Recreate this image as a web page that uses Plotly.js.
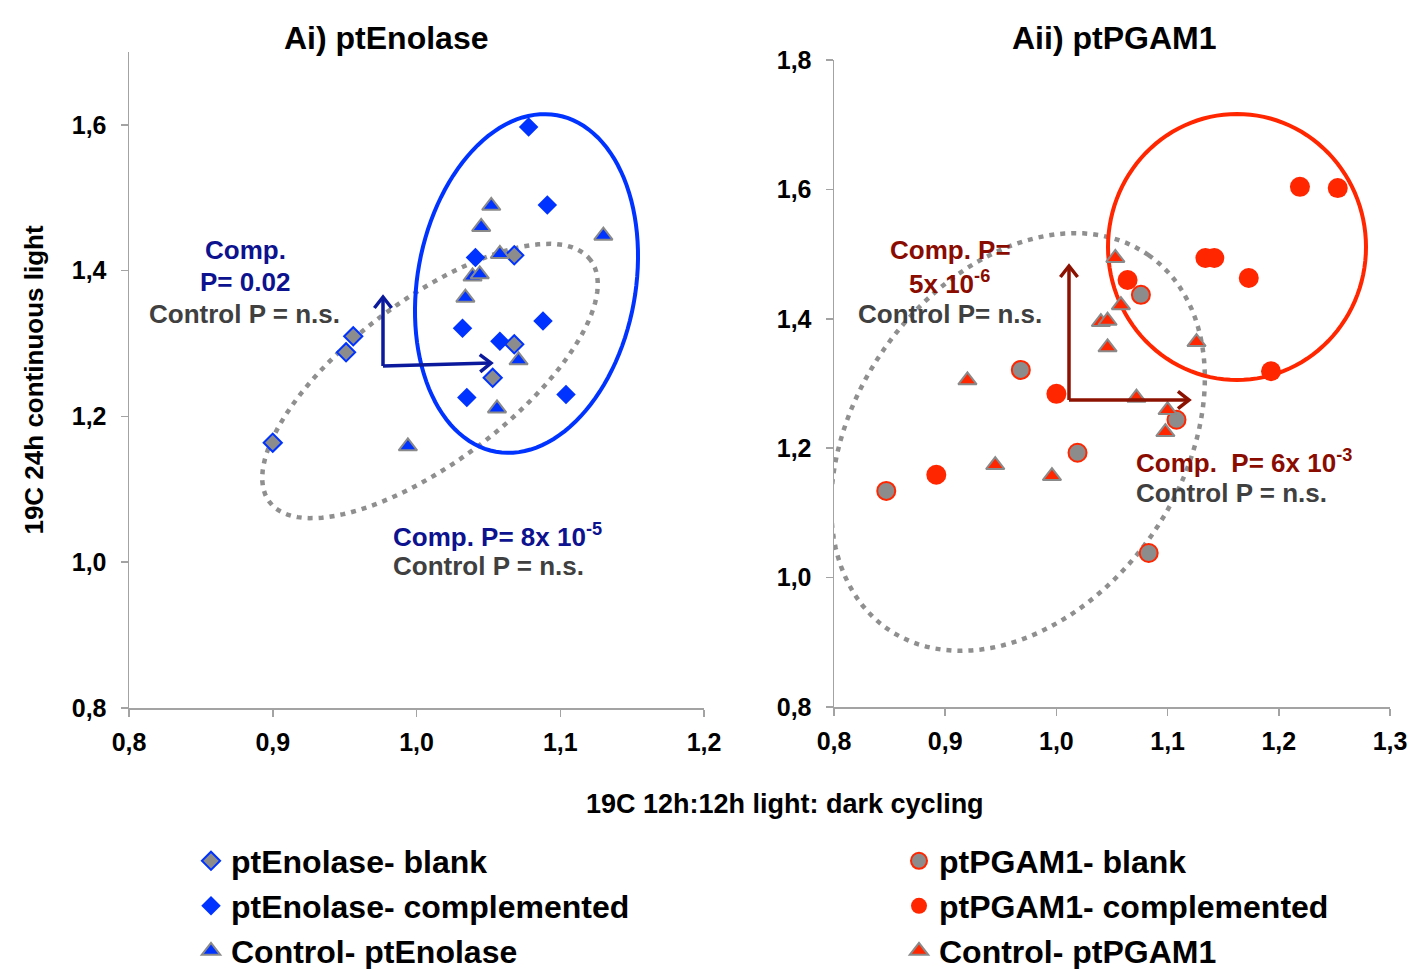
<!DOCTYPE html>
<html>
<head>
<meta charset="utf-8">
<script src="https://cdn.plot.ly/plotly-3.0.1.min.js"></script>
<style>html,body{margin:0;padding:0;background:#fff;}</style>
</head>
<body>
<div id="chart" style="width:1412px;height:969px;"></div>
<script>
// ---------------- data ----------------
const enoCompX  = [1.078, 1.091, 1.041, 1.032, 1.088, 1.058, 1.035, 1.104];
const enoCompY  = [1.597, 1.490, 1.418, 1.321, 1.331, 1.303, 1.226, 1.230];
const enoBlankX = [0.900, 0.951, 0.956, 1.053, 1.068, 1.068];
const enoBlankY = [1.164, 1.288, 1.310, 1.253, 1.299, 1.421];
const enoCtrlX  = [0.994, 1.034, 1.039, 1.044, 1.045, 1.052, 1.056, 1.058, 1.071, 1.130];
const enoCtrlY  = [1.159, 1.363, 1.392, 1.395, 1.460, 1.489, 1.211, 1.423, 1.277, 1.448];

const pgamCompX  = [0.892, 1.000, 1.064, 1.134, 1.142, 1.173, 1.193, 1.219, 1.253];
const pgamCompY  = [1.159, 1.284, 1.460, 1.494, 1.494, 1.463, 1.319, 1.604, 1.602];
const pgamBlankX = [0.847, 0.968, 1.019, 1.076, 1.083, 1.108];
const pgamBlankY = [1.134, 1.321, 1.193, 1.437, 1.038, 1.244];
const pgamCtrlX  = [0.920, 0.945, 0.996, 1.040, 1.046, 1.046, 1.053, 1.058, 1.072, 1.098, 1.100, 1.126];
const pgamCtrlY  = [1.305, 1.174, 1.157, 1.395, 1.397, 1.356, 1.494, 1.421, 1.278, 1.225, 1.259, 1.364];

const seriesNames = ['ptEnolase- blank', 'ptEnolase- complemented', 'Control- ptEnolase',
                     'ptPGAM1- blank', 'ptPGAM1- complemented', 'Control- ptPGAM1'];
const panelTitles = ['Ai) ptEnolase', 'Aii) ptPGAM1'];
const xTitle = '19C 12h:12h light: dark cycling';
const yTitle = '19C 24h continuous light';

// ---------------- layout constants ----------------
const W = 1412, H = 969;
const FONT = 'Liberation Sans, Arial, Helvetica, sans-serif';
const BLUE = '#0033ff', RED = '#ff2600', GREYFILL = '#8c8c8c', GREYLINE = '#8a8a8a';
const NAVY = '#0d128f', DARKRED = '#8a0c00', TXTGREY = '#404040';
const ARROWBLUE = '#0b1a9c', ARROWRED = '#8b1200';
const AXC = '#a3a3a3';

const L = {x0:129, x1:704, y0:52, y1:708, xr:[0.8,1.2], yr:[0.8,1.7]};
const R = {x0:834, x1:1390, y0:60, y1:707, xr:[0.8,1.3], yr:[0.8,1.8]};
function ppx(P){ return (P.x1-P.x0)/(P.xr[1]-P.xr[0]); }
function ppy(P){ return (P.y1-P.y0)/(P.yr[1]-P.yr[0]); }
function dataX(P, px){ return P.xr[0] + (px-P.x0)/ppx(P); }
function dataY(P, py){ return P.yr[0] + (P.y1-py)/ppy(P); }

// ellipse outline (pixel-defined geometry converted to data units)
function ellipsePath(P, cxPx, cyPx, aPx, bPx, angDeg){
  const th = angDeg*Math.PI/180, n = 120;
  const cx = dataX(P,cxPx), cy = dataY(P,cyPx);
  let d = '';
  for(let i=0;i<=n;i++){
    const t = 2*Math.PI*i/n;
    const dx = aPx*Math.cos(t)*Math.cos(th) - bPx*Math.sin(t)*Math.sin(th);
    const dy = aPx*Math.cos(t)*Math.sin(th) + bPx*Math.sin(t)*Math.cos(th);
    d += (i===0?'M':'L') + (cx+dx/ppx(P)).toFixed(5) + ',' + (cy+dy/ppy(P)).toFixed(5);
  }
  return d + 'Z';
}

// arrow drawn as shapes: shaft + open chevron head (pixel geometry -> data units)
function arrowShapes(P, xa, ya, tx, ty, hx, hy, color){
  const ang = Math.atan2(-(hy-ty), hx-tx); // screen-up positive
  const arm = 14, spread = 38*Math.PI/180;
  const pts = [ang+Math.PI-spread, ang+Math.PI+spread].map(a => [hx + arm*Math.cos(a), hy - arm*Math.sin(a)]);
  const f = (px,py) => dataX(P,px).toFixed(5) + ',' + dataY(P,py).toFixed(5);
  return [
    {type:'line', xref:xa, yref:ya, x0:dataX(P,tx), y0:dataY(P,ty), x1:dataX(P,hx), y1:dataY(P,hy),
     line:{color:color, width:3.5}},
    {type:'path', xref:xa, yref:ya, path:'M'+f(pts[0][0],pts[0][1])+'L'+f(hx,hy)+'L'+f(pts[1][0],pts[1][1]),
     line:{color:color, width:3.5}, fillcolor:'rgba(0,0,0,0)'}
  ];
}

function axisX(P, anchor){
  return {domain:[P.x0/W, P.x1/W], range:P.xr, anchor:anchor, dtick:0.1, tick0:0.8, tickformat:'.1f',
    showline:true, linecolor:AXC, linewidth:1.5, ticks:'outside', ticklen:7, tickcolor:AXC, tickwidth:1.5,
    ticklabelstandoff:4, showgrid:false, zeroline:false,
    tickfont:{family:FONT, size:25, color:'#000', weight:'bold'}};
}
function axisY(P, anchor){
  return {domain:[1-P.y1/H, 1-P.y0/H], range:P.yr, anchor:anchor, dtick:0.2, tick0:0.8, tickformat:'.1f',
    showline:true, linecolor:AXC, linewidth:1.5, ticks:'outside', ticklen:7, tickcolor:AXC, tickwidth:1.5,
    ticklabelstandoff:9, showgrid:false, zeroline:false,
    tickfont:{family:FONT, size:25, color:'#000', weight:'bold'}};
}

function legendAt(textPx, yPx){
  return {x:(textPx-40)/W, y:1-yPx/H, xanchor:'left', yanchor:'middle', bgcolor:'rgba(0,0,0,0)',
    borderwidth:0, font:{family:FONT, size:32, color:'#000', weight:'bold'}};
}

const traces = [
  {name:seriesNames[1], x:enoCompX, y:enoCompY, xaxis:'x', yaxis:'y', legend:'legend2', mode:'markers', type:'scatter',
   marker:{symbol:'diamond', size:15, color:BLUE, line:{width:0}}},
  {name:seriesNames[0], x:enoBlankX, y:enoBlankY, xaxis:'x', yaxis:'y', legend:'legend', mode:'markers', type:'scatter',
   marker:{symbol:'diamond', size:14, color:GREYFILL, line:{width:2, color:BLUE}}},
  {name:seriesNames[2], x:enoCtrlX, y:enoCtrlY, xaxis:'x', yaxis:'y', legend:'legend3', mode:'markers', type:'scatter',
   marker:{symbol:'triangle-up', size:16, color:BLUE, line:{width:2, color:GREYLINE}}},
  {name:seriesNames[4], x:pgamCompX, y:pgamCompY, xaxis:'x2', yaxis:'y2', legend:'legend5', mode:'markers', type:'scatter',
   marker:{symbol:'circle', size:20, color:RED, line:{width:0}}},
  {name:seriesNames[3], x:pgamBlankX, y:pgamBlankY, xaxis:'x2', yaxis:'y2', legend:'legend4', mode:'markers', type:'scatter',
   marker:{symbol:'circle', size:18, color:GREYFILL, line:{width:2, color:RED}}},
  {name:seriesNames[5], x:pgamCtrlX, y:pgamCtrlY, xaxis:'x2', yaxis:'y2', legend:'legend6', mode:'markers', type:'scatter',
   marker:{symbol:'triangle-up', size:16, color:RED, line:{width:2, color:GREYLINE}}}
];

function txt(xPx, yPx, text, color, size, xanchor){
  return {xref:'paper', yref:'paper', x:xPx/W, y:1-yPx/H, text:text, showarrow:false,
    xanchor:xanchor||'center', yanchor:'middle', font:{family:FONT, size:size, color:color, weight:'bold'}};
}

const annotations = [
  txt(386, 38, panelTitles[0], '#000', 32),
  txt(1114, 38, panelTitles[1], '#000', 32),
  txt(785, 804, xTitle, '#000', 27),
  // left panel texts
  txt(245, 250, 'Comp.', NAVY, 26),
  txt(245, 282, 'P= 0.02', NAVY, 26),
  txt(244, 314, 'Control P = n.s.', TXTGREY, 26),
  txt(391, 535, 'Comp. P= 8x 10<sup>-5</sup>', NAVY, 26, 'left'),
  txt(391, 566, 'Control P = n.s.', TXTGREY, 26, 'left'),
  // right panel texts
  txt(950, 250, 'Comp. P=', DARKRED, 26),
  txt(949, 282, '5x 10<sup>-6</sup>', DARKRED, 26),
  txt(950, 314, 'Control P= n.s.', TXTGREY, 26),
  txt(1134, 461, 'Comp.  P= 6x 10<sup>-3</sup>', DARKRED, 26, 'left'),
  txt(1134, 493, 'Control P = n.s.', TXTGREY, 26, 'left')
];

const shapes = [
  {type:'path', xref:'x', yref:'y', path:ellipsePath(L, 430, 381, 201, 81, 37),
   line:{color:'#8f8f8f', width:4.5, dash:'5px,6px'}, fillcolor:'rgba(0,0,0,0)', layer:'below'},
  {type:'path', xref:'x', yref:'y', path:ellipsePath(L, 526.5, 283.5, 171, 109, 79.7),
   line:{color:BLUE, width:4}, fillcolor:'rgba(0,0,0,0)', layer:'below'},
  {type:'path', xref:'x2', yref:'y2', path:ellipsePath(R, 1018, 442, 228, 163, 55),
   line:{color:'#8f8f8f', width:4.5, dash:'5px,6px'}, fillcolor:'rgba(0,0,0,0)', layer:'below'},
  {type:'path', xref:'x2', yref:'y2', path:ellipsePath(R, 1237, 247, 133, 129, 90),
   line:{color:RED, width:4}, fillcolor:'rgba(0,0,0,0)', layer:'below'},
  // axis break on left y axis
  {type:'rect', xref:'x', yref:'y', xsizemode:'pixel', xanchor:0.8, x0:-5, x1:5,
   y0:dataY(L,697), y1:dataY(L,682), fillcolor:'#ffffff', line:{width:0}, layer:'above'}
].concat(
  arrowShapes(L, 'x', 'y', 383, 366, 383, 297, ARROWBLUE),
  arrowShapes(L, 'x', 'y', 383, 366, 491, 363, ARROWBLUE),
  arrowShapes(R, 'x2', 'y2', 1069, 400, 1069, 266, ARROWRED),
  arrowShapes(R, 'x2', 'y2', 1069, 400, 1189, 400, ARROWRED)
);

const layout = {
  width:W, height:H, margin:{l:0, r:0, t:0, b:0, autoexpand:false}, paper_bgcolor:'#fff', plot_bgcolor:'rgba(0,0,0,0)',
  separators:',.', font:{family:FONT, color:'#000'},
  xaxis:axisX(L,'y'), yaxis:Object.assign(axisY(L,'x'), {title:{text:yTitle, standoff:20,
     font:{family:FONT, size:26, color:'#000', weight:'bold'}}}),
  xaxis2:axisX(R,'y2'), yaxis2:axisY(R,'x2'),
  legend:legendAt(231, 861), legend2:legendAt(231, 906), legend3:legendAt(231, 951),
  legend4:legendAt(939, 861), legend5:legendAt(939, 906), legend6:legendAt(939, 951),
  annotations:annotations, shapes:shapes, showlegend:true
};

Plotly.newPlot('chart', traces, layout, {displayModeBar:false, staticPlot:true});
</script>
</body>
</html>
